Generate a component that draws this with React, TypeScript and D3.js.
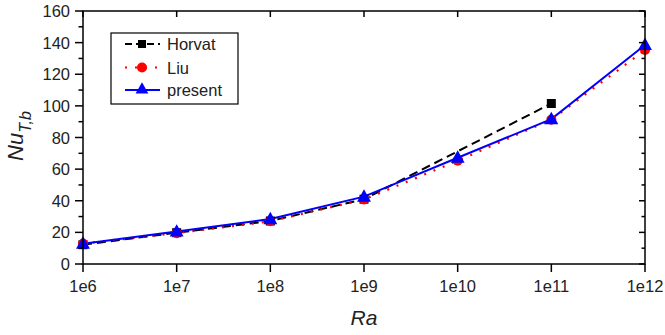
import React from "react";
import * as d3 from "d3";

const raValues = [1e6, 1e7, 1e8, 1e9, 1e10, 1e11, 1e12];
const xTickLabels = ["1e6", "1e7", "1e8", "1e9", "1e10", "1e11", "1e12"];
const yTicks = [0, 20, 40, 60, 80, 100, 120, 140, 160];

const horvatRa = [1e6, 1e7, 1e8, 1e9, 1e11];
const horvatNu = [12.2, 19.8, 27.2, 41.0, 101.5];
const liuNu = [13.0, 19.5, 27.0, 40.8, 65.3, 91.3, 135.3];
const presentNu = [12.8, 20.5, 28.4, 42.6, 67.2, 91.6, 138.5];

const W = 665;
const H = 335;
const m = { left: 83, right: 645, top: 11, bottom: 264 };
const FONT = "'Liberation Sans', Arial, sans-serif";

export default function App() {
  const x = d3.scaleLog().domain([1e6, 1e12]).range([m.left, m.right]);
  const y = d3.scaleLinear().domain([0, 160]).range([m.bottom, m.top]);

  const line = d3
    .line<[number, number]>()
    .x((d) => x(d[0]))
    .y((d) => y(d[1]));

  const horvat: [number, number][] = horvatRa.map((r, i) => [r, horvatNu[i]]);
  const liu: [number, number][] = raValues.map((r, i) => [r, liuNu[i]]);
  const present: [number, number][] = raValues.map((r, i) => [r, presentNu[i]]);

  const minorY = d3.range(10, 160, 20);
  const tri = (cx: number, cy: number, s: number) =>
    `M${cx},${cy - s * 0.62} L${cx + s * 0.58},${cy + s * 0.42} L${cx - s * 0.58},${cy + s * 0.42} Z`;

  return (
    <svg width={W} height={H} style={{ display: "block", position: "absolute", left: 0, top: 0 }}>
      <rect width={W} height={H} fill="#fff" />
      <defs>
        <clipPath id="plotClip">
          <rect x={m.left} y={m.top} width={m.right - m.left} height={m.bottom - m.top} />
        </clipPath>
      </defs>

      {/* series lines */}
      <g clipPath="url(#plotClip)">
        <path d={line(horvat) || ""} fill="none" stroke="#000" strokeWidth={2} strokeDasharray="9,5" />
        <path d={line(liu) || ""} fill="none" stroke="#ff0000" strokeWidth={2.2} strokeDasharray="2,8" />
        <path d={line(present) || ""} fill="none" stroke="#0000ff" strokeWidth={2} />
      </g>

      {/* markers */}
      <g>
        {horvat.map((d, i) => (
          <rect key={"h" + i} x={x(d[0]) - 4.5} y={y(d[1]) - 4.5} width={9} height={9} fill="#000" />
        ))}
        {liu.map((d, i) => (
          <circle key={"l" + i} cx={x(d[0])} cy={y(d[1])} r={5} fill="#ff0000" />
        ))}
        {present.map((d, i) => (
          <path key={"p" + i} d={tri(x(d[0]), y(d[1]), 12)} fill="#0000ff" />
        ))}
      </g>

      {/* frame */}
      <rect x={m.left} y={m.top} width={m.right - m.left} height={m.bottom - m.top} fill="none" stroke="#000" strokeWidth={1.5} />

      {/* ticks */}
      <g stroke="#000" strokeWidth={1.5}>
        {yTicks.map((t) => (
          <line key={"yl" + t} x1={m.left - 8} x2={m.left} y1={y(t)} y2={y(t)} />
        ))}
        {minorY.map((t) => (
          <line key={"ym" + t} x1={m.left - 4.5} x2={m.left} y1={y(t)} y2={y(t)} />
        ))}
        {yTicks.map((t) => (
          <line key={"yr" + t} x1={m.right - 6} x2={m.right} y1={y(t)} y2={y(t)} />
        ))}
        {minorY.map((t) => (
          <line key={"yrm" + t} x1={m.right - 3.5} x2={m.right} y1={y(t)} y2={y(t)} />
        ))}
        {raValues.map((r) => (
          <line key={"xb" + r} x1={x(r)} x2={x(r)} y1={m.bottom} y2={m.bottom + 8} />
        ))}
        {raValues.map((r) => (
          <line key={"xt" + r} x1={x(r)} x2={x(r)} y1={m.top} y2={m.top + 6} />
        ))}
      </g>

      <g fontFamily={FONT} fontSize={16.5} fill="#222">
        {yTicks.map((t) => (
          <text key={"ylab" + t} x={m.left - 13} y={y(t) + 6} textAnchor="end">
            {t}
          </text>
        ))}
        {raValues.map((r, i) => (
          <text key={"xlab" + r} x={x(r)} y={292} textAnchor="middle">
            {xTickLabels[i]}
          </text>
        ))}
      </g>

      {/* axis titles */}
      <text x={364} y={325} textAnchor="middle" fontFamily={FONT} fontSize={21} fontStyle="italic" fill="#222">
        Ra
      </text>
      <text
        transform="translate(23,136) rotate(-90)"
        textAnchor="middle"
        fontFamily={FONT}
        fontSize={22}
        fontStyle="italic"
        fill="#222"
      >
        Nu
        <tspan fontSize={16} dy={8}>T,b</tspan>
      </text>

      {/* legend */}
      <g fontFamily={FONT} fontSize={16.5} fill="#222">
        <rect x={111} y={33} width={127} height={71} fill="#fff" stroke="#000" strokeWidth={1.2} />
        <line x1={125} x2={160} y1={44} y2={44} stroke="#000" strokeWidth={2} strokeDasharray="7,4" />
        <rect x={138} y={40} width={8} height={8} fill="#000" />
        <text x={167} y={50}>Horvat</text>
        <line x1={125} x2={160} y1={67.5} y2={67.5} stroke="#ff0000" strokeWidth={2.2} strokeDasharray="2,8" />
        <circle cx={142} cy={67.5} r={5} fill="#ff0000" />
        <text x={167} y={73.5}>Liu</text>
        <line x1={125} x2={160} y1={90} y2={90} stroke="#0000ff" strokeWidth={2} />
        <path d={tri(142, 89, 11)} fill="#0000ff" />
        <text x={167} y={96}>present</text>
      </g>
    </svg>
  );
}
